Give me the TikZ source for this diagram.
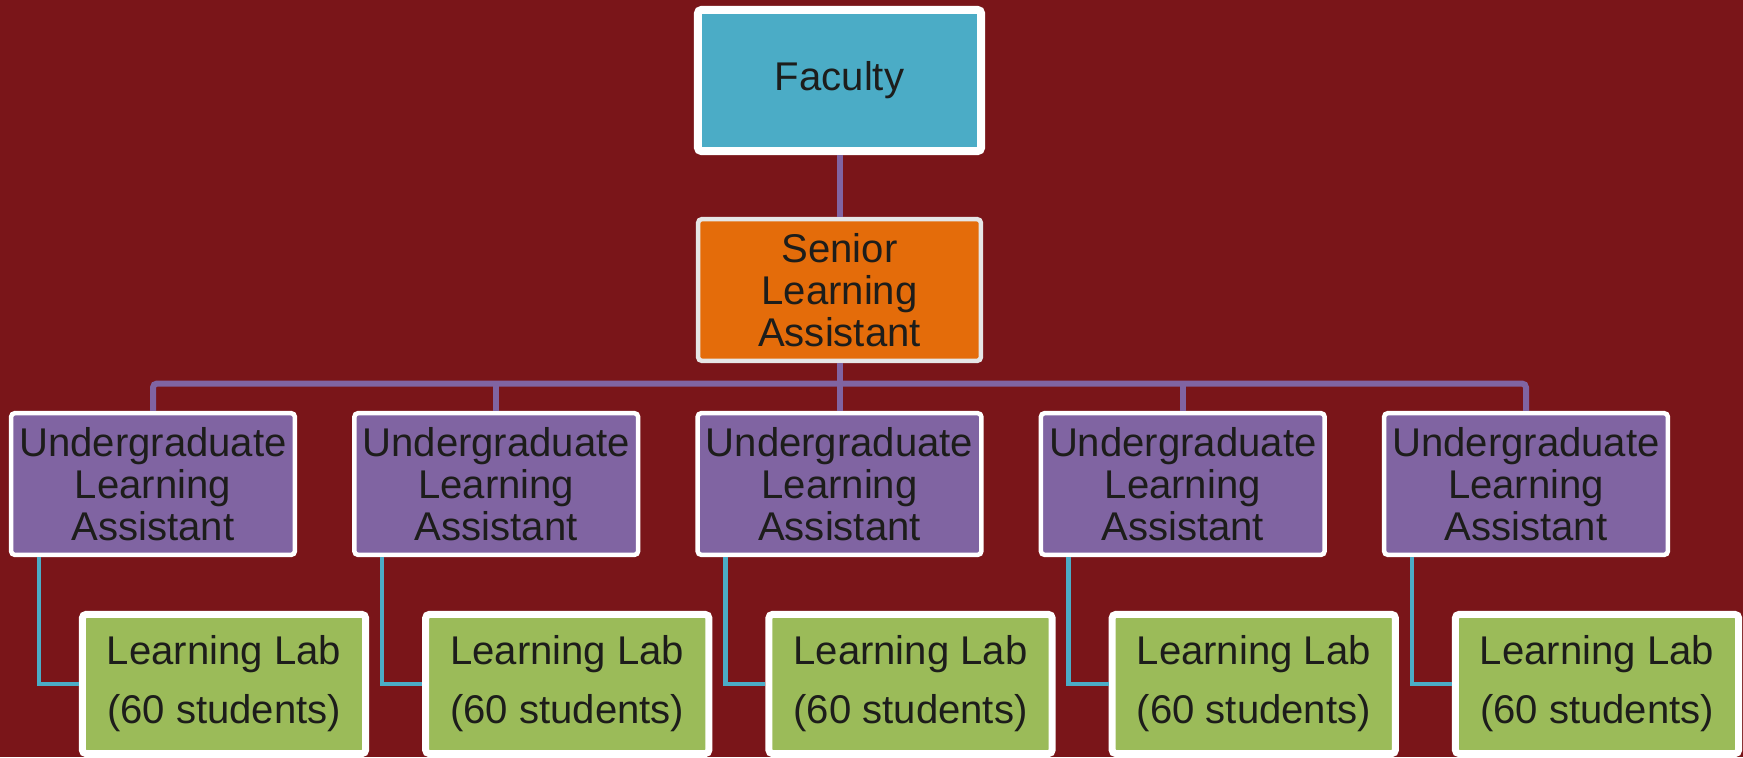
\documentclass[tikz,border=0pt]{standalone}
\usepackage{fontspec}
\setmainfont{Liberation Sans}
\usetikzlibrary{positioning,shadows}
\definecolor{bgred}{HTML}{7A1519}
\definecolor{facblue}{HTML}{4BACC6}
\definecolor{srorange}{HTML}{E46C0A}
\definecolor{srgray}{HTML}{E6E6E6}
\definecolor{ulapurple}{HTML}{8064A2}
\definecolor{labgreen}{HTML}{9BBB59}
\definecolor{textdark}{HTML}{1D1D1B}
\tikzset{
  box/.style={draw=white, text=textdark, align=center, inner sep=0pt,
              font=\fontsize{11.4}{11.95}\selectfont, line width=0.045cm,
              minimum width=2.835cm, minimum height=1.415cm},
  facbox/.style={box, fill=facblue, line width=0.08cm, rounded corners=1pt,
                 minimum width=2.83cm, minimum height=1.41cm,
                 drop shadow={shadow xshift=0.02cm, shadow yshift=-0.03cm, opacity=0.35}},
  srbox/.style={box, fill=srorange, draw=srgray, rounded corners=1pt, minimum width=2.825cm},
  ulabox/.style={box, fill=ulapurple, rounded corners=1pt},
  labbox/.style={box, fill=labgreen, line width=0.07cm, rounded corners=1pt,
                 minimum width=2.83cm, minimum height=1.39cm,
                 font=\fontsize{11.4}{16.8}\selectfont},
  orgline/.style={draw=ulapurple, line width=0.06cm, rounded corners=0.04cm},
  labline/.style={draw=facblue, line width=0.045cm},
}
\begin{document}
\begin{tikzpicture}[x=0.01cm, y=-0.01cm]

\fill[bgred] (0,0) rectangle (1743,757);
\useasboundingbox (0,0) rectangle (1743,757);

\node[facbox](faculty) at (839.5,80.5) {Faculty};
\node[srbox](senior) at (839.5,290) {Senior\\Learning\\Assistant};
\coordinate (bus) at (0,383.5);

\node[ulabox](ula1) at (153,484) {Undergraduate\\Learning\\Assistant};
\node[ulabox](ula2) at (496.25,484) {Undergraduate\\Learning\\Assistant};
\node[ulabox](ula3) at (839.5,484) {Undergraduate\\Learning\\Assistant};
\node[ulabox](ula4) at (1182.75,484) {Undergraduate\\Learning\\Assistant};
\node[ulabox](ula5) at (1526,484) {Undergraduate\\Learning\\Assistant};

\node[labbox](lab1) at (224,684) {Learning Lab\\(60 students)};
\node[labbox](lab2) at (567.25,684) {Learning Lab\\(60 students)};
\node[labbox](lab3) at (910.5,684) {Learning Lab\\(60 students)};
\node[labbox](lab4) at (1253.75,684) {Learning Lab\\(60 students)};
\node[labbox](lab5) at (1597,684) {Learning Lab\\(60 students)};

\draw[orgline] (faculty) -- (senior);
\draw[orgline] (senior) -- (senior |- bus);
\draw[orgline] (ula1) |- (bus -| ula5) -- (ula5);
\draw[orgline] (ula2) -- (ula2 |- bus);
\draw[orgline] (ula3) -- (ula3 |- bus);
\draw[orgline] (ula4) -- (ula4 |- bus);

\draw[labline] ([xshift=0.3cm]ula1.south west) |- (lab1);
\draw[labline] ([xshift=0.3cm]ula2.south west) |- (lab2);
\draw[labline] ([xshift=0.3cm]ula3.south west) |- (lab3);
\draw[labline] ([xshift=0.3cm]ula4.south west) |- (lab4);
\draw[labline] ([xshift=0.3cm]ula5.south west) |- (lab5);

\end{tikzpicture}
\end{document}
